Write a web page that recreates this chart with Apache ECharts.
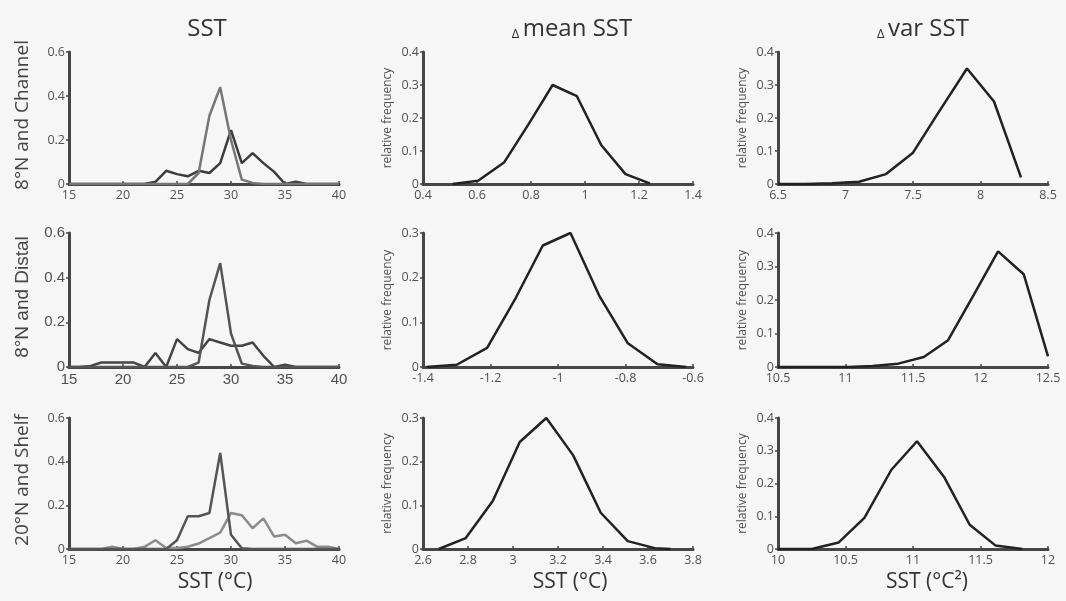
<!DOCTYPE html>
<html><head><meta charset="utf-8">
<script src="https://cdn.jsdelivr.net/npm/echarts@6/dist/echarts.min.js"></script>
<style>html,body{margin:0;padding:0;background:#f6f6f6}#c{width:1066px;height:601px}</style>
</head><body><div id="c"></div><script>
// ---- data ----
const colTitles = ['SST', 'mean SST', 'var SST'];
const rowLabels = ['8°N and Channel', '8°N and Distal', '20°N and Shelf'];
const bottomLabels = ['SST (°C)', 'SST (°C)', 'SST (°C²)'];

const sstX = [15,16,17,18,19,20,21,22,23,24,25,26,27,28,29,30,31,32,33,34,35,36,37,38,39,40];
// 8N Channel
const chPeak  = [0,0,0,0,0,0,0,0,0,0,0,0,0.05,0.31,0.44,0.2,0.02,0.005,0,0,0,0,0,0,0,0];
const chBroad = [0,0,0,0,0,0,0,0,0.01,0.06,0.045,0.035,0.06,0.05,0.095,0.245,0.095,0.14,0.095,0.055,0,0.01,0,0,0,0];
// 8N Distal
const diPeak  = [0,0,0,0,0,0,0,0,0,0,0,0,0.02,0.3,0.465,0.15,0.015,0.005,0,0,0,0,0,0,0,0];
const diBroad = [0,0,0.005,0.02,0.02,0.02,0.02,0,0.063,0,0.125,0.08,0.063,0.125,0.11,0.095,0.095,0.11,0.05,0,0.01,0,0,0,0,0];
// 20N Shelf
const shPeak  = [0,0,0,0,0,0,0,0,0,0,0.04,0.15,0.15,0.165,0.44,0.065,0.003,0,0,0,0,0,0,0,0,0];
const shBroad = [0,0,0,0,0.01,0,0,0.01,0.04,0.005,0.005,0.01,0.025,0.05,0.075,0.165,0.155,0.095,0.14,0.057,0.065,0.026,0.038,0.01,0.01,0];

// delta mean SST
const meanChX = [0.51,0.604,0.70,0.79,0.88,0.97,1.06,1.15,1.24];
const meanChY = [0,0.01,0.065,0.18,0.30,0.266,0.118,0.03,0.002];
const meanDiX = [-1.39,-1.30,-1.21,-1.125,-1.045,-0.963,-0.878,-0.793,-0.705,-0.62];
const meanDiY = [0,0.005,0.043,0.155,0.272,0.30,0.16,0.053,0.006,0];
const meanShX = [2.67,2.79,2.91,3.03,3.148,3.267,3.39,3.51,3.63,3.70];
const meanShY = [0,0.025,0.11,0.245,0.30,0.215,0.083,0.018,0.002,0];

// delta var SST
const varChX = [6.5,6.7,6.9,7.1,7.3,7.5,7.7,7.9,8.1,8.3];
const varChY = [0,0,0.002,0.007,0.03,0.095,0.224,0.35,0.25,0.02];
const varDiX = [10.5,11.02,11.2,11.39,11.58,11.76,11.95,12.13,12.32,12.50];
const varDiY = [0,0,0.003,0.01,0.03,0.08,0.215,0.345,0.277,0.032];
const varShX = [10,10.25,10.45,10.64,10.84,11.03,11.23,11.42,11.61,11.81];
const varShY = [0,0,0.02,0.095,0.242,0.329,0.22,0.074,0.011,0];

// axis ranges
const xRanges = [
  [[15,40,5],[0.4,1.4,0.2],[6.5,8.5,0.5]],
  [[15,40,5],[-1.4,-0.6,0.2],[10.5,12.5,0.5]],
  [[15,40,5],[2.6,3.8,0.2],[10,12,0.5]]
];
const yRanges = [
  [[0,0.6,0.2],[0,0.4,0.1],[0,0.4,0.1]],
  [[0,0.6,0.2],[0,0.3,0.1],[0,0.4,0.1]],
  [[0,0.6,0.2],[0,0.3,0.1],[0,0.4,0.1]]
];

// ---- layout ----
const colLeft = [69, 423, 778];
const colW = 270;
const rowTop = [52, 233, 418];
const rowH = [132, 134, 131];
const axisCol = '#464646';
const openF = '"Open Sans", sans-serif';
const arialF = '"Liberation Sans", Arial, sans-serif';

const zip = (xs, ys) => xs.map((v, i) => [v, ys[i]]);

const grids = [], xAxes = [], yAxes = [], series = [];
for (let r = 0; r < 3; r++) {
  for (let c = 0; c < 3; c++) {
    const idx = r * 3 + c;
    const fam = (r === 1 && c === 0) ? arialF : openF;
    const fs = (r === 1 && c === 0) ? 15 : 12.5;
    grids.push({ left: colLeft[c], top: rowTop[r], width: colW, height: rowH[r] });
    const xr = xRanges[r][c], yr = yRanges[r][c];
    xAxes.push({
      type: 'value', gridIndex: idx, min: xr[0], max: xr[1], interval: xr[2],
      axisLine: { lineStyle: { color: axisCol, width: 3 } },
      axisTick: { show: true, inside: true, length: 3, lineStyle: { color: axisCol, width: 1.5 } },
      axisLabel: { color: '#505050', fontFamily: fam, fontSize: fs, margin: 5 },
      splitLine: { show: false }
    });
    yAxes.push({
      type: 'value', gridIndex: idx, min: yr[0], max: yr[1], interval: yr[2],
      axisLine: { show: true, lineStyle: { color: axisCol, width: 3 } },
      axisTick: { show: true, length: 3, lineStyle: { color: axisCol, width: 1.5 } },
      axisLabel: { color: '#505050', fontFamily: fam, fontSize: fs, margin: 4 },
      splitLine: { show: false },
      name: c === 0 ? '' : 'relative frequency',
      nameLocation: 'middle', nameGap: 29,
      nameTextStyle: { color: '#505050', fontFamily: openF, fontSize: 12 }
    });
  }
}

function line(idx, data, color, width) {
  series.push({
    type: 'line', xAxisIndex: idx, yAxisIndex: idx, data: data,
    showSymbol: false, symbol: 'none', silent: true,
    lineStyle: { color: color, width: width }
  });
}
// col 1
line(0, zip(sstX, chBroad), '#3c3c3c', 2.5);
line(0, zip(sstX, chPeak), '#767676', 2.5);
line(3, zip(sstX, diBroad), '#444444', 2.5);
line(3, zip(sstX, diPeak), '#555555', 2.5);
line(6, zip(sstX, shBroad), '#8c8c8c', 2.5);
line(6, zip(sstX, shPeak), '#555555', 2.5);
// col 2
line(1, zip(meanChX, meanChY), '#222', 2.5);
line(4, zip(meanDiX, meanDiY), '#222', 2.5);
line(7, zip(meanShX, meanShY), '#222', 2.5);
// col 3
line(2, zip(varChX, varChY), '#222', 2.5);
line(5, zip(varDiX, varDiY), '#222', 2.5);
line(8, zip(varShX, varShY), '#222', 2.5);

// ---- texts ----
const graphics = [];
const titleX = [207, 572, 923];
for (let c = 0; c < 3; c++) {
  graphics.push({
    type: 'text', left: 'auto',
    x: titleX[c], y: 29,
    style: {
      text: c === 0 ? '{m|' + colTitles[c] + '}' : '{d|Δ} {m|' + colTitles[c] + '}',
      align: 'center', verticalAlign: 'middle',
      rich: {
        m: { fontFamily: openF, fontSize: 24, fill: '#333' },
        d: { fontFamily: openF, fontSize: 13, fill: '#333', verticalAlign: 'bottom', padding: [8, 0, 0, 0] }
      }
    }
  });
}
const rowLabelY = [115, 297, 480];
for (let r = 0; r < 3; r++) {
  graphics.push({
    type: 'text', x: 23, y: rowLabelY[r], rotation: Math.PI / 2,
    style: {
      text: rowLabels[r], align: 'center', verticalAlign: 'middle',
      fontFamily: r === 1 ? arialF : openF, fontSize: r === 1 ? 19 : 19, fill: '#444'
    }
  });
}
const botX = [215, 570, 927];
for (let c = 0; c < 3; c++) {
  graphics.push({
    type: 'text', x: botX[c], y: 582,
    style: {
      text: bottomLabels[c], align: 'center', verticalAlign: 'middle',
      fontFamily: openF, fontSize: 21, fill: '#333'
    }
  });
}

const chart = echarts.init(document.getElementById('c'), null, { renderer: 'canvas' });
chart.setOption({
  backgroundColor: '#f6f6f6',
  animation: false,
  grid: grids, xAxis: xAxes, yAxis: yAxes, series: series,
  graphic: graphics
});
</script></body></html>
